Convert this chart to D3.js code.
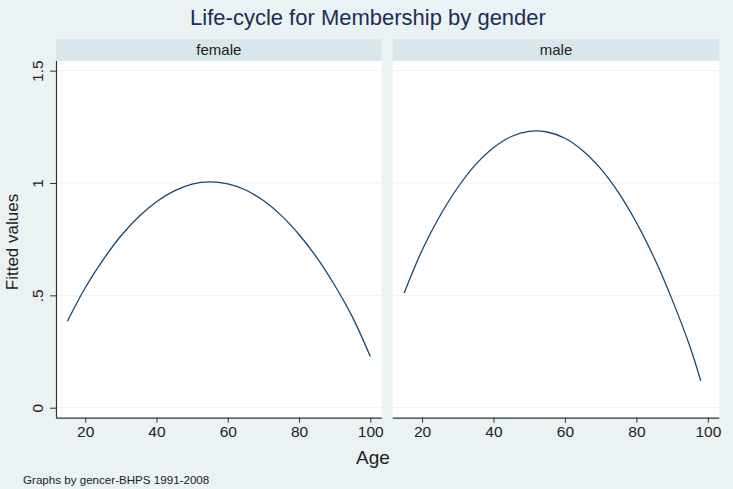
<!DOCTYPE html>
<html>
<head>
<meta charset="utf-8">
<script src="https://cdn.jsdelivr.net/npm/d3@7"></script>
<style>
  html, body { margin: 0; padding: 0; background: #EAF2F3; }
  svg { display: block; font-family: "Liberation Sans", Arial, sans-serif; }
</style>
</head>
<body>
<svg id="chart" width="733" height="489"></svg>
<script>
// ---- data ----
const panels = ["female", "male"];
const femaleAges = [15, 20, 25, 30, 35, 40, 45, 50, 55, 60, 65, 70, 75, 80, 85, 90, 95, 100];
const femaleFitted = [0.385, 0.534, 0.658, 0.764, 0.850, 0.917, 0.965, 0.995, 1.005, 0.996, 0.969, 0.922, 0.856, 0.771, 0.668, 0.545, 0.403, 0.228];
const maleAges = [15, 20, 25, 30, 35, 40, 45, 50, 55, 60, 65, 70, 75, 80, 85, 90, 95, 98];
const maleFitted = [0.51, 0.700, 0.853, 0.980, 1.082, 1.157, 1.207, 1.230, 1.227, 1.199, 1.144, 1.064, 0.957, 0.824, 0.666, 0.481, 0.271, 0.12];
const xTicks = [20, 40, 60, 80, 100];
const yTicks = [0, 0.5, 1, 1.5];
const yTickLabels = ["0", ".5", "1", "1.5"];
const titleText = "Life-cycle for Membership by gender";
const xTitle = "Age";
const yTitle = "Fitted values";
const noteText = "Graphs by gencer-BHPS 1991-2008";

const series = [
  { name: panels[0], ages: femaleAges, vals: femaleFitted },
  { name: panels[1], ages: maleAges, vals: maleFitted }
];

// ---- layout ----
const svg = d3.select("#chart");
const bg = "#EAF2F3", stripFill = "#D9E6EB", lineColor = "#1A476F", gridColor = "#EAF2F3";
const plotTop = 61, plotBottom = 417.7, stripTop = 39;
const panelX = [[56, 381.7], [392.7, 719.3]];
const xDomain = [11.8, 103.2];
const tickFont = 15.5;

svg.append("rect").attr("width", 733).attr("height", 489).attr("fill", bg);

const y = d3.scaleLinear().domain([-0.0445, 1.543]).range([plotBottom, plotTop]);

series.forEach((s, i) => {
  const [x0, x1] = panelX[i];
  const x = d3.scaleLinear().domain(xDomain).range([x0, x1]);
  const g = svg.append("g");

  // strip
  g.append("rect").attr("x", x0).attr("y", stripTop).attr("width", x1 - x0).attr("height", plotTop - stripTop).attr("fill", stripFill);
  g.append("text").attr("x", (x0 + x1) / 2).attr("y", 55).attr("text-anchor", "middle")
    .attr("font-size", 15).attr("fill", "#222").text(s.name);

  // plot background
  g.append("rect").attr("x", x0).attr("y", plotTop).attr("width", x1 - x0).attr("height", plotBottom - plotTop).attr("fill", "#fff");

  // gridlines
  g.selectAll("line.grid").data(yTicks).join("line")
    .attr("x1", x0).attr("x2", x1)
    .attr("y1", d => y(d)).attr("y2", d => y(d))
    .attr("stroke", gridColor).attr("stroke-width", 1);

  // x axis
  const xAxis = d3.axisBottom(x).tickValues(xTicks).tickSize(5).tickPadding(3).tickFormat(d3.format("d"));
  const ax = g.append("g").attr("transform", `translate(0,${plotBottom})`).call(xAxis);
  ax.select(".domain").attr("d", `M${x0},0.5H${x1}`).attr("stroke", "#333").attr("stroke-width", 1.2);
  ax.selectAll(".tick line").attr("stroke", "#333");
  ax.selectAll(".tick text").attr("font-size", tickFont).attr("fill", "#222").attr("font-family", "Liberation Sans, Arial, sans-serif");

  // y axis on first panel
  if (i === 0) {
    const yAxis = d3.axisLeft(y).tickValues(yTicks).tickSize(6).tickPadding(4).tickFormat((d, k) => yTickLabels[k]);
    const ay = g.append("g").attr("transform", `translate(${x0},0)`).call(yAxis);
    ay.select(".domain").attr("d", `M0.5,${plotTop}V${plotBottom}`).attr("stroke", "#333").attr("stroke-width", 1.2);
    ay.selectAll(".tick line").attr("stroke", "#333");
    ay.selectAll(".tick text")
      .attr("font-size", tickFont).attr("fill", "#222").attr("font-family", "Liberation Sans, Arial, sans-serif")
      .attr("text-anchor", "middle").attr("x", null).attr("dy", null)
      .attr("transform", "translate(-19,0) rotate(-90)").attr("y", 5.5);
  }

  // curve
  const pts = s.ages.map((a, k) => [a, s.vals[k]]);
  g.append("path").datum(pts)
    .attr("fill", "none").attr("stroke", lineColor).attr("stroke-width", 1.3)
    .attr("d", d3.line().x(d => x(d[0])).y(d => y(d[1])).curve(d3.curveCatmullRom.alpha(0.5)));
});

// titles
svg.append("text").attr("x", 368).attr("y", 25).attr("text-anchor", "middle")
  .attr("font-size", 22).attr("fill", "#1E2D53").text(titleText);
svg.append("text").attr("x", 373).attr("y", 464).attr("text-anchor", "middle")
  .attr("font-size", 19).attr("fill", "#222").text(xTitle);
svg.append("text").attr("transform", "translate(18,242) rotate(-90)").attr("text-anchor", "middle")
  .attr("font-size", 17).attr("fill", "#222").text(yTitle);
svg.append("text").attr("x", 23).attr("y", 484)
  .attr("font-size", 11.6).attr("fill", "#222").text(noteText);
</script>
</body>
</html>
